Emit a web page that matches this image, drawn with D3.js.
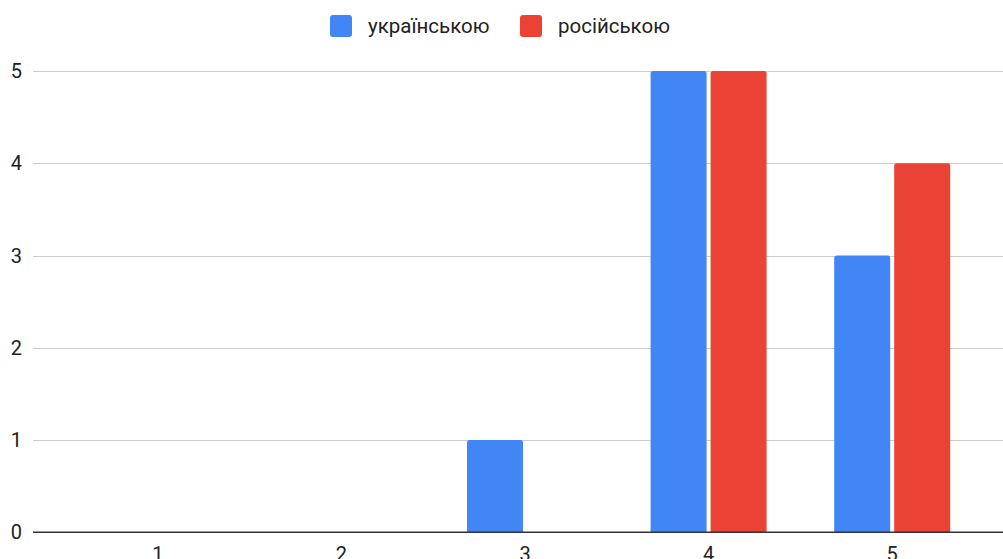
<!DOCTYPE html>
<html>
<head>
<meta charset="utf-8">
<script src="https://cdn.jsdelivr.net/npm/d3@7"></script>
<style>
  html, body { margin: 0; padding: 0; background: #fff; }
  svg { display: block; }
  text { font-family: Roboto, "Liberation Sans", Arial, sans-serif; }
</style>
</head>
<body>
<svg id="chart" width="1003" height="559"></svg>
<script>
// Categories along the x axis
const categories = ["1", "2", "3", "4", "5"];
// Series names and their counts per category
const seriesNames = ["українською", "російською"];
const ukrainianValues = [0, 0, 1, 5, 3];
const russianValues = [0, 0, 0, 5, 4];
const seriesColors = ["#4285F4", "#EA4335"];
const yTicks = [0, 1, 2, 3, 4, 5];

const svg = d3.select("#chart");

const gridLeft = 33, gridRight = 1010;
const x = d3.scaleBand().domain(categories).range([66, 984]).paddingInner(0).paddingOuter(0);
const y = d3.scaleLinear().domain([0, 5]).range([532.3, 71]);

const series = [ukrainianValues, russianValues];
const barW = 56, gap = 4;

// Horizontal gridlines
svg.append("g")
  .selectAll("line")
  .data(yTicks.filter(d => d !== 0))
  .join("line")
  .attr("x1", gridLeft).attr("x2", gridRight)
  .attr("y1", d => Math.round(y(d)) + 0.5).attr("y2", d => Math.round(y(d)) + 0.5)
  .attr("stroke", "#cccccc").attr("stroke-width", 1.2);

// Y tick labels
svg.append("g")
  .selectAll("text")
  .data(yTicks)
  .join("text")
  .attr("x", 22)
  .attr("y", d => y(d))
  .attr("dy", "0.35em")
  .attr("text-anchor", "end")
  .attr("font-size", 20)
  .attr("fill", "#222")
  .text(d => d);

// Rounded-top bar path
function barPath(x0, w, yTop, yBase, r) {
  const h = yBase - yTop;
  if (h <= 0) return "";
  r = Math.min(r, h, w / 2);
  return `M${x0},${yBase}V${yTop + r}Q${x0},${yTop} ${x0 + r},${yTop}H${x0 + w - r}Q${x0 + w},${yTop} ${x0 + w},${yTop + r}V${yBase}Z`;
}

series.forEach((vals, si) => {
  svg.append("g")
    .selectAll("path")
    .data(vals.map((v, i) => ({ cat: categories[i], v })))
    .join("path")
    .attr("d", d => {
      const c = x(d.cat) + x.bandwidth() / 2;
      const x0 = si === 0 ? c - gap / 2 - barW : c + gap / 2;
      return barPath(x0, barW, y(d.v), y(0), 2.5);
    })
    .attr("fill", seriesColors[si]);
});

// Baseline
svg.append("line")
  .attr("x1", gridLeft).attr("x2", gridRight)
  .attr("y1", y(0)).attr("y2", y(0))
  .attr("stroke", "#333").attr("stroke-width", 1.5);

// X labels (the lower half falls below the drawing area)
svg.append("g")
  .selectAll("text")
  .data(categories)
  .join("text")
  .attr("x", d => x(d) + x.bandwidth() / 2)
  .attr("y", 561)
  .attr("text-anchor", "middle")
  .attr("font-size", 20)
  .attr("fill", "#222")
  .text(d => d);

// Legend
const legendX = [330, 520];
const lg = svg.append("g");
seriesNames.forEach((name, i) => {
  lg.append("rect")
    .attr("x", legendX[i]).attr("y", 15)
    .attr("width", 22).attr("height", 22)
    .attr("rx", 3)
    .attr("fill", seriesColors[i]);
  lg.append("text")
    .attr("x", legendX[i] + 38)
    .attr("y", 26)
    .attr("dy", "0.35em")
    .attr("font-size", 20.5)
    .attr("fill", "#222")
    .text(name);
});
</script>
</body>
</html>
